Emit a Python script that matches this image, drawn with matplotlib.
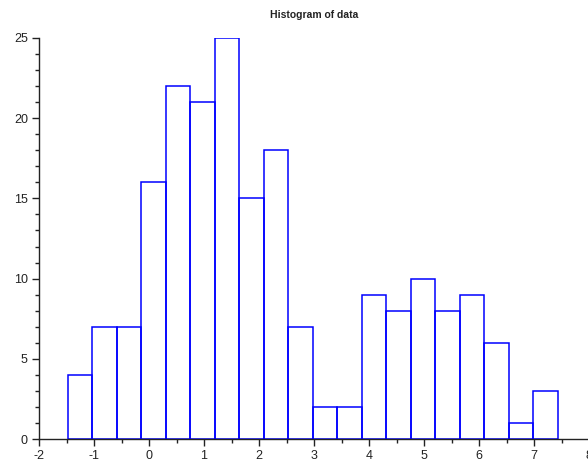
import matplotlib
matplotlib.use("Agg")
import matplotlib.pyplot as plt
from matplotlib.ticker import MultipleLocator

# histogram bins (20 bins, 200 samples)
bin_edges = [-1.47, -1.03, -0.58, -0.14, 0.31, 0.75, 1.20, 1.64, 2.09, 2.53, 2.98,
             3.42, 3.87, 4.31, 4.76, 5.20, 5.65, 6.09, 6.54, 6.98, 7.43]
counts = [4, 7, 7, 16, 22, 21, 25, 15, 18, 7, 2, 2, 9, 8, 10, 8, 9, 6, 1, 3]
title = "Histogram of data"

plt.rcParams["font.family"] = ["Liberation Sans", "DejaVu Sans"]

fig = plt.figure(figsize=(5.88, 4.66), dpi=100)
# axes spans x=-2..8 over px 39..589, y=0..25 over px 439..38
ax = fig.add_axes([39 / 588, (466 - 439) / 466, 550 / 588, 401 / 466])

lefts = bin_edges[:-1]
widths = [b - a for a, b in zip(bin_edges[:-1], bin_edges[1:])]
ax.bar(lefts, counts, width=widths, align="edge", fill=False,
       edgecolor="#0000ff", linewidth=1.1)

ax.set_xlim(-2, 8)
ax.set_ylim(0, 25)

for side in ("top", "right"):
    ax.spines[side].set_visible(False)
for side in ("left", "bottom"):
    ax.spines[side].set_color("#222222")
    ax.spines[side].set_linewidth(1.0)

ax.xaxis.set_major_locator(MultipleLocator(1))
ax.xaxis.set_minor_locator(MultipleLocator(0.5))
ax.yaxis.set_major_locator(MultipleLocator(5))
ax.yaxis.set_minor_locator(MultipleLocator(1))
ax.tick_params(which="major", direction="out", length=5, width=1.0,
               color="#222222", labelsize=9, labelcolor="#222222", pad=3)
ax.tick_params(which="minor", direction="out", length=3, width=1.0, color="#222222")
ax.set_xticks(range(-2, 9))
ax.set_xticklabels([str(v) for v in range(-2, 9)])

fig.text(314.5 / 588, 1 - 15 / 466, title, ha="center", va="center",
         fontsize=7.5, fontweight="bold", color="#222222")

fig.savefig("out.png", dpi=100)
